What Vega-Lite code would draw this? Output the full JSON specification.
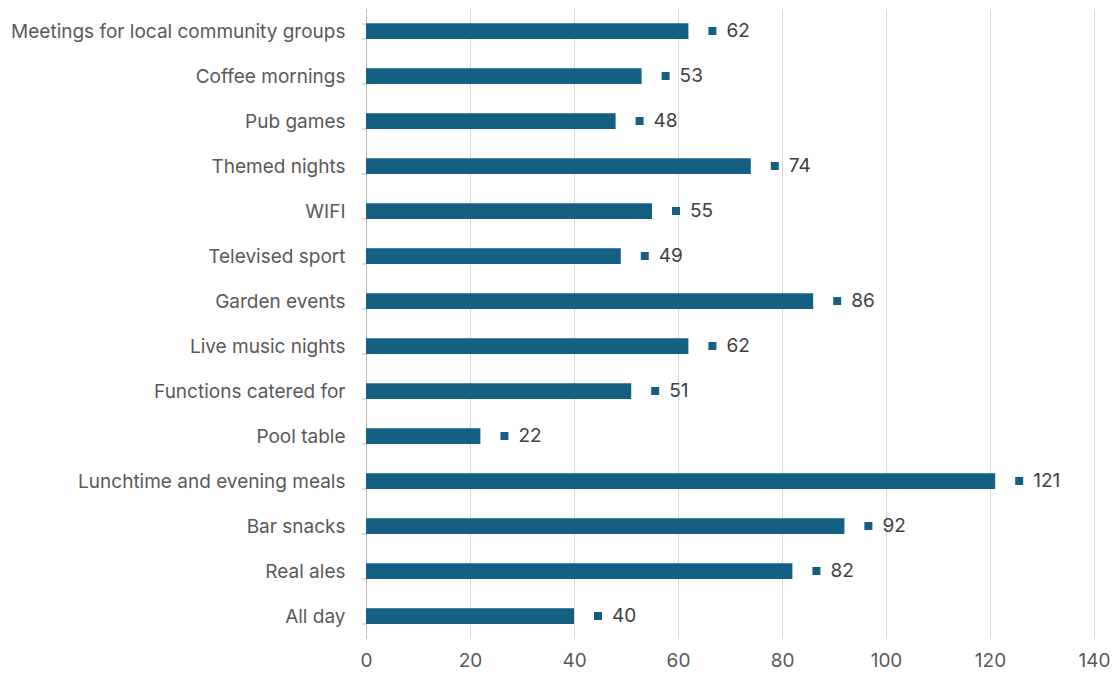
{
  "$schema": "https://vega.github.io/schema/vega-lite/v6.json",
  "width": 728,
  "height": 630,
  "autosize": "none",
  "padding": {"left": 366, "top": 8.5, "right": 23, "bottom": 39.5},
  "background": "white",
  "config": {"view": {"stroke": null}, "font": "Inter"},
  "data": {"values": [
    {"cat": "Meetings for local community groups", "v": 62},
    {"cat": "Coffee mornings", "v": 53},
    {"cat": "Pub games", "v": 48},
    {"cat": "Themed nights", "v": 74},
    {"cat": "WIFI", "v": 55},
    {"cat": "Televised sport", "v": 49},
    {"cat": "Garden events", "v": 86},
    {"cat": "Live music nights", "v": 62},
    {"cat": "Functions catered for", "v": 51},
    {"cat": "Pool table", "v": 22},
    {"cat": "Lunchtime and evening meals", "v": 121},
    {"cat": "Bar snacks", "v": 92},
    {"cat": "Real ales", "v": 82},
    {"cat": "All day", "v": 40}
  ]},
  "encoding": {
    "y": {"field": "cat", "type": "nominal", "sort": null, "title": null,
      "scale": {"paddingInner": 0.65, "paddingOuter": 0.325},
      "axis": {"tickBand": "extent", "domainColor": "#bfbfbf", "tickColor": "#bfbfbf", "tickSize": 5,
        "labelFontSize": 19, "labelColor": "#595959", "labelPadding": 16, "labelFont": "Inter", "labelLimit": 400}},
    "x": {"field": "v", "type": "quantitative", "title": null,
      "scale": {"domain": [0, 140], "nice": false},
      "axis": {"values": [0, 20, 40, 60, 80, 100, 120, 140], "domain": false, "ticks": false, "labelFlush": false,
        "gridColor": "#d9d9d9", "labelFontSize": 19, "labelColor": "#595959", "labelPadding": 13, "labelFont": "Inter"}}
  },
  "layer": [
    {"mark": {"type": "bar", "color": "#156082"}},
    {"mark": {"type": "point", "shape": "square", "filled": true, "size": 64, "color": "#156082", "opacity": 1, "xOffset": 24}},
    {"mark": {"type": "text", "align": "left", "baseline": "middle", "dx": 38, "fontSize": 19, "color": "#404040"},
     "encoding": {"text": {"field": "v", "type": "quantitative"}}}
  ]
}
